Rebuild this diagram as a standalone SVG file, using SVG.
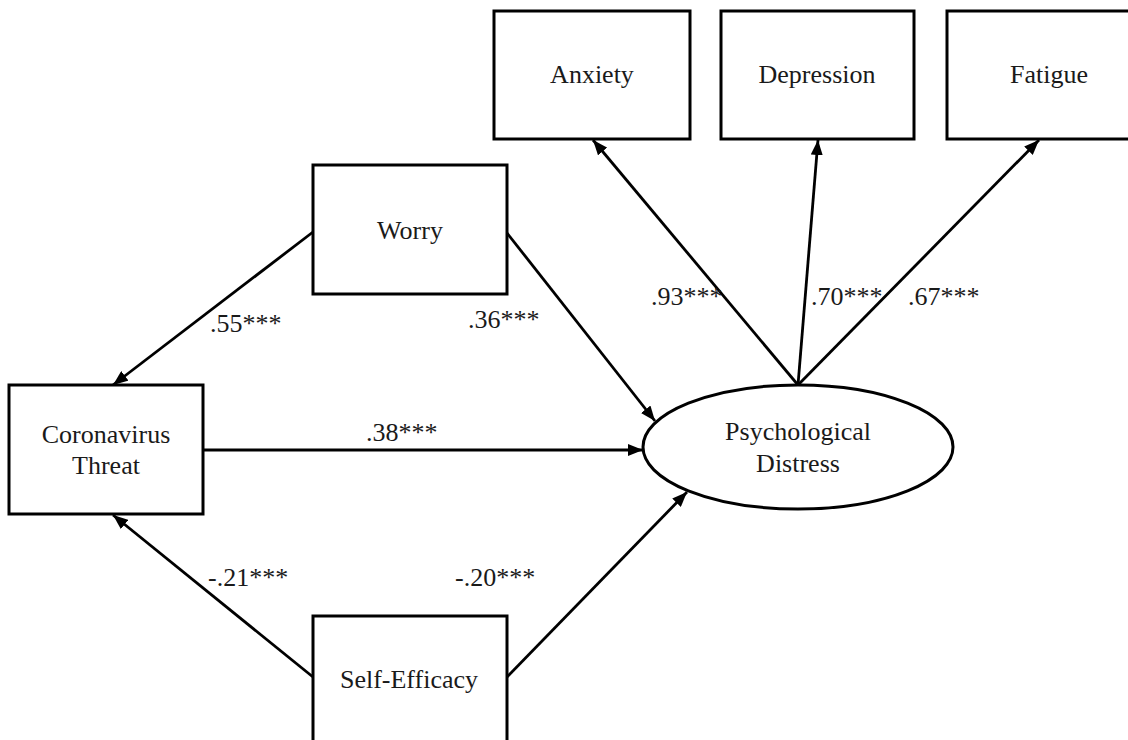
<svg xmlns="http://www.w3.org/2000/svg" width="1128" height="740" viewBox="0 0 1128 740">
<style>
.box{fill:#fff;stroke:#000;stroke-width:3}
.t{font-family:"Liberation Serif","Times New Roman",serif;font-size:26px;fill:#1a1a1a;text-anchor:middle}
.lbl{font-family:"Liberation Serif","Times New Roman",serif;font-size:26px;fill:#1a1a1a}
.c{stroke:#000;stroke-width:2.8;fill:none;marker-end:url(#ah)}
</style>
<defs>
<marker id="ah" viewBox="0 0 15 12" refX="15" refY="6" markerWidth="15" markerHeight="12" markerUnits="userSpaceOnUse" orient="auto">
<path d="M0,0 L15,6 L0,12 Z" fill="#000"/>
</marker>
</defs>
<rect width="1128" height="740" fill="#fff"/>
<g id="connectors">
<line class="c" x1="798" y1="385" x2="593" y2="140"/>
<line class="c" x1="798" y1="385" x2="818" y2="140"/>
<line class="c" x1="798" y1="385" x2="1039" y2="140"/>
<line class="c" x1="313" y1="232" x2="113" y2="385"/>
<line class="c" x1="507" y1="233" x2="655" y2="421"/>
<line class="c" x1="203" y1="450" x2="643" y2="450"/>
<line class="c" x1="313" y1="677" x2="113" y2="515"/>
<line class="c" x1="507" y1="677" x2="687" y2="492"/>
</g>
<g id="labels">
<text class="lbl" x="651" y="305">.93***</text>
<text class="lbl" x="811" y="305">.70***</text>
<text class="lbl" x="908" y="305">.67***</text>
<text class="lbl" x="210" y="332">.55***</text>
<text class="lbl" x="468" y="328">.36***</text>
<text class="lbl" x="366" y="441">.38***</text>
<text class="lbl" x="208" y="586">-.21***</text>
<text class="lbl" x="455" y="586">-.20***</text>
</g>
<g id="anxiety"><rect class="box" x="494" y="11" width="196" height="128"/><text class="t" x="592" y="83">Anxiety</text></g>
<g id="depression"><rect class="box" x="721" y="11" width="193" height="128"/><text class="t" x="817" y="83">Depression</text></g>
<g id="fatigue"><rect class="box" x="947" y="11" width="194" height="128"/><text class="t" x="1049" y="83">Fatigue</text></g>
<g id="worry"><rect class="box" x="313" y="165" width="194" height="129"/><text class="t" x="410" y="239">Worry</text></g>
<g id="coronavirus-threat"><rect class="box" x="9" y="385" width="194" height="129"/><text class="t" x="106" y="443">Coronavirus</text><text class="t" x="106" y="474">Threat</text></g>
<g id="self-efficacy"><rect class="box" x="313" y="616" width="194" height="129"/><text class="t" x="409" y="688">Self-Efficacy</text></g>
<g id="psychological-distress"><ellipse class="box" cx="798" cy="447" rx="155" ry="62"/><text class="t" x="798" y="440">Psychological</text><text class="t" x="798" y="472">Distress</text></g>
</svg>
